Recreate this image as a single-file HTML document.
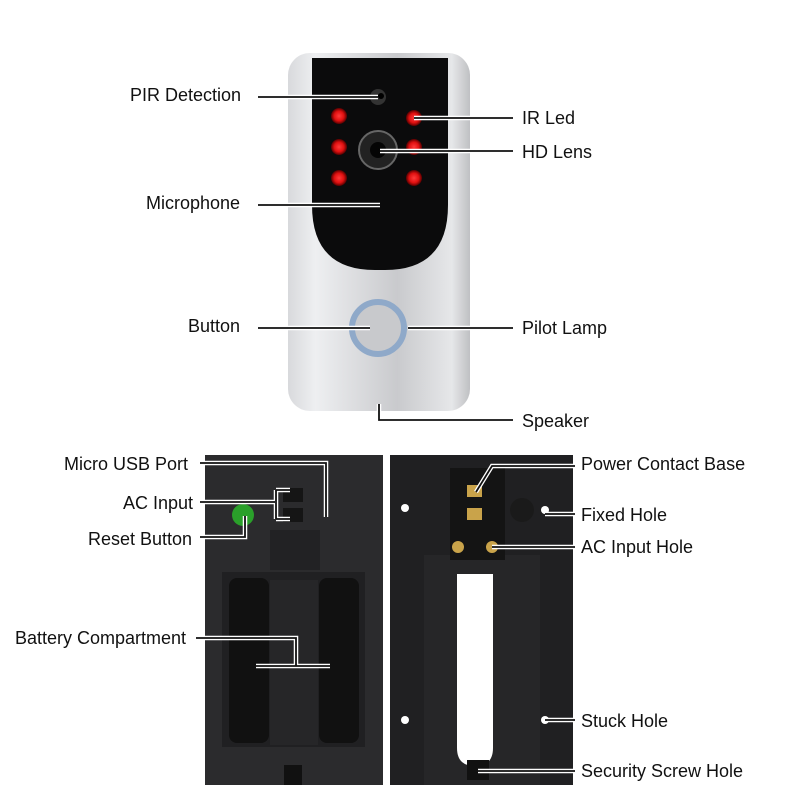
<!DOCTYPE html>
<html><head><style>
html,body{margin:0;padding:0;background:#fff}
svg{display:block}
text{font-family:"Liberation Sans",sans-serif;font-size:18px;fill:#111}
</style></head><body>
<svg width="800" height="800" viewBox="0 0 800 800">
<defs>
<linearGradient id="sil" x1="0" x2="1" y1="0" y2="0">
<stop offset="0" stop-color="#d8d9dc"/><stop offset="0.15" stop-color="#eeeff1"/>
<stop offset="0.6" stop-color="#c9cacd"/><stop offset="0.9" stop-color="#e6e7e9"/><stop offset="1" stop-color="#bfc0c3"/>
</linearGradient>
<radialGradient id="led"><stop offset="0" stop-color="#ff3a3a"/><stop offset="0.6" stop-color="#e01010"/><stop offset="1" stop-color="#500"/></radialGradient>
</defs>
<rect x="288" y="53" width="182" height="358" rx="22" fill="url(#sil)"/>
<path d="M312 58 H448 V205 Q448 270 385 270 H375 Q312 270 312 205 Z" fill="#0b0b0c"/>
<circle cx="378" cy="97" r="8" fill="#333"/><circle cx="381" cy="96" r="3" fill="#000"/>
<circle cx="378" cy="150" r="19" fill="#222" stroke="#666" stroke-width="2"/><circle cx="378" cy="150" r="8" fill="#050505"/>
<g fill="url(#led)">
<circle cx="339" cy="116" r="8"/><circle cx="339" cy="147" r="8"/><circle cx="339" cy="178" r="8"/>
<circle cx="414" cy="118" r="8"/><circle cx="414" cy="147" r="8"/><circle cx="414" cy="178" r="8"/>
</g>
<circle cx="378" cy="328" r="26" fill="#c8c9cc" stroke="#8fa9c9" stroke-width="6"/>
<rect x="205" y="455" width="178" height="330" fill="#2b2b2d"/>
<rect x="222" y="572" width="143" height="175" fill="#202022"/>
<rect x="229" y="578" width="40" height="165" rx="8" fill="#111"/>
<rect x="319" y="578" width="40" height="165" rx="8" fill="#111"/>
<rect x="270" y="580" width="48" height="165" fill="#262628"/>
<rect x="270" y="530" width="50" height="40" fill="#222224"/>
<circle cx="243" cy="515" r="11" fill="#2aa02a"/>
<rect x="283" y="488" width="20" height="14" fill="#151515"/>
<rect x="283" y="508" width="20" height="14" fill="#151515"/>
<rect x="284" y="765" width="18" height="20" fill="#111"/>
<rect x="390" y="455" width="183" height="330" fill="#202022"/>
<path d="M424 555 H540 V785 H424 Z" fill="#262628"/>
<rect x="450" y="468" width="55" height="92" fill="#141414"/>
<rect x="467" y="485" width="15" height="12" fill="#c9a34a"/>
<rect x="467" y="508" width="15" height="12" fill="#c9a34a"/>
<circle cx="458" cy="547" r="6" fill="#c9a34a"/><circle cx="492" cy="547" r="6" fill="#c9a34a"/>
<path d="M457 574 H493 V748 Q493 766 475 766 Q457 766 457 748 Z" fill="#fff"/>
<circle cx="522" cy="510" r="12" fill="#1a1a1a"/>
<circle cx="545" cy="510" r="4" fill="#fff"/><circle cx="405" cy="508" r="4" fill="#fff"/>
<circle cx="405" cy="720" r="4" fill="#fff"/><circle cx="545" cy="720" r="4" fill="#fff"/>
<rect x="467" y="760" width="22" height="20" fill="#111"/>
<g id="ln" fill="none">
<path d="M258 97 H378"/><path d="M414 118 H513"/><path d="M380 151 H513"/>
<path d="M258 205 H380"/><path d="M258 328 H370"/><path d="M408 328 H513"/>
<path d="M379 404 V420 H513"/>
<path d="M200 463 H326 V517"/><path d="M200 502 H275 M276 490 V519 M276 490 H290 M276 519 H290"/>
<path d="M200 537 H245 V516"/><path d="M196 638 H296 V666 M256 666 H330"/>
<path d="M575 466 H492 L476 492"/><path d="M545 514 H575"/><path d="M492 547 H575"/>
<path d="M545 720 H575"/><path d="M478 771 H575"/>
</g>
<use href="#ln" stroke="#fff" stroke-width="4.5"/>
<use href="#ln" stroke="#111" stroke-width="1.8"/>
<text x="130" y="101">PIR Detection</text>
<text x="522" y="124">IR Led</text>
<text x="522" y="158">HD Lens</text>
<text x="146" y="209">Microphone</text>
<text x="188" y="332">Button</text>
<text x="522" y="334">Pilot Lamp</text>
<text x="522" y="427">Speaker</text>
<text x="64" y="470">Micro USB Port</text>
<text x="123" y="509">AC Input</text>
<text x="88" y="545">Reset Button</text>
<text x="15" y="644">Battery Compartment</text>
<text x="581" y="470">Power Contact Base</text>
<text x="581" y="521">Fixed Hole</text>
<text x="581" y="553">AC Input Hole</text>
<text x="581" y="727">Stuck Hole</text>
<text x="581" y="777">Security Screw Hole</text>
</svg>
</body></html>
